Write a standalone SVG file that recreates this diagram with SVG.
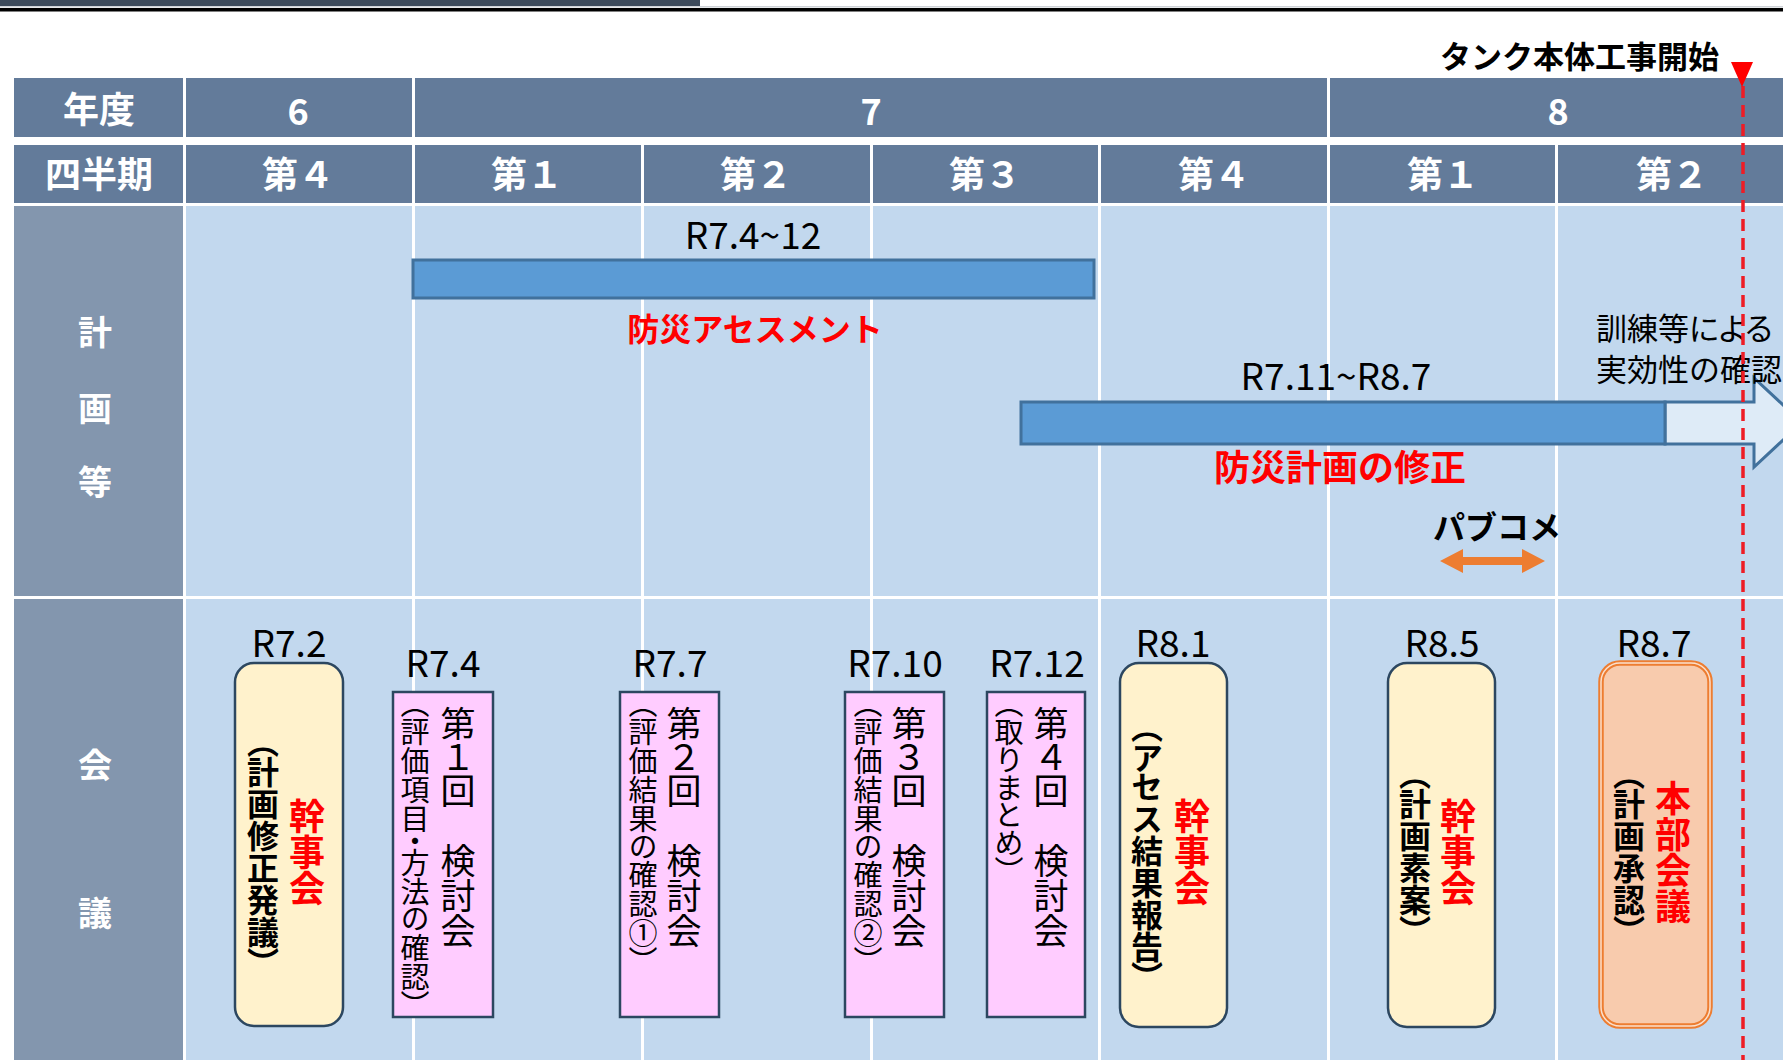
<svg xmlns="http://www.w3.org/2000/svg" width="1783" height="1060" viewBox="0 0 1783 1060">
<defs>
<style>
text{font-family:"Noto Sans CJK JP","Noto Sans",sans-serif;}
.hd{fill:#637b9a}
.side{fill:#8396ae}
.body{fill:#c2d8ee}
.sep{stroke:#fff;stroke-width:3}
.ht{fill:#fff;font-weight:700;font-size:36px;text-anchor:middle}
.st{fill:#fff;font-weight:700;font-size:34px;text-anchor:middle}
.lbl{fill:#000;font-size:37px;text-anchor:middle}
.bar{fill:#5b9bd5;stroke:#41719c;stroke-width:3}
.cream{fill:#fff2cc;stroke:#2c4760;stroke-width:2.5}
.pink{fill:#ffccff;stroke:#2c4760;stroke-width:2.5}
.v{writing-mode:vertical-rl;font-feature-settings:"vpal" 1}
.vb{font-weight:700;font-size:32px;text-anchor:middle;fill:#000}
.vr{font-weight:700;font-size:36px;text-anchor:middle;fill:#ff0000}
.v1{font-size:35px;fill:#000;text-anchor:start}
.v2{font-size:29px;fill:#000;text-anchor:start}
</style>
</defs>
<rect x="0" y="0" width="1783" height="1060" fill="#fff"/>
<g id="topline">
<rect x="0" y="0" width="700" height="6" fill="#3d4b5c"/>
<rect x="0" y="6" width="1783" height="1.5" fill="#cfd3d8"/>
<rect x="0" y="8" width="1783" height="3.5" fill="#000"/>
</g>
<g id="table">
<rect class="hd" x="14" y="78" width="1769" height="59"/>
<rect class="hd" x="14" y="145" width="1769" height="58"/>
<rect class="side" x="14" y="206" width="170" height="390"/>
<rect class="side" x="14" y="599" width="170" height="461"/>
<rect class="body" x="184" y="206" width="1599" height="390"/>
<rect class="body" x="184" y="599" width="1599" height="461"/>
<line class="sep" x1="184.5" y1="78" x2="184.5" y2="1060"/>
<line class="sep" x1="413.5" y1="78" x2="413.5" y2="1060"/>
<line class="sep" x1="1328.5" y1="78" x2="1328.5" y2="1060"/>
<line class="sep" x1="642.5" y1="145" x2="642.5" y2="1060"/>
<line class="sep" x1="871.5" y1="145" x2="871.5" y2="1060"/>
<line class="sep" x1="1099.5" y1="145" x2="1099.5" y2="1060"/>
<line class="sep" x1="1556.5" y1="145" x2="1556.5" y2="1060"/>
<text class="ht" x="99" y="123">年度</text>
<text class="ht" x="298" y="125">6</text>
<text class="ht" x="871" y="125">7</text>
<text class="ht" x="1558" y="125">8</text>
<text class="ht" x="99" y="188">四半期</text>
<text class="ht" x="298" y="188">第４</text>
<text class="ht" x="527" y="188">第１</text>
<text class="ht" x="756" y="188">第２</text>
<text class="ht" x="985" y="188">第３</text>
<text class="ht" x="1214" y="188">第４</text>
<text class="ht" x="1443" y="188">第１</text>
<text class="ht" x="1672" y="188">第２</text>
<text class="st" x="95" y="345">計</text>
<text class="st" x="95" y="421">画</text>
<text class="st" x="95" y="495">等</text>
<text class="st" x="95" y="778">会</text>
<text class="st" x="95" y="926">議</text>
</g>
<g id="assessment">
<rect class="bar" x="413" y="260" width="681" height="38"/>
<text class="lbl" x="753" y="249" font-size="38">R7.4~12</text>
<text x="755" y="341" font-size="32" font-weight="700" fill="#ff0000" text-anchor="middle">防災アセスメント</text>
</g>
<g id="plan-revision">
<polygon points="1665,402 1754,402 1754,378 1802,422.5 1754,467 1754,444 1665,444" fill="#deebf7" stroke="#41719c" stroke-width="3"/>
<rect class="bar" x="1021" y="402" width="644" height="42"/>
<text class="lbl" x="1336" y="390" font-size="38">R7.11~R8.7</text>
<text x="1340" y="481" font-size="36" font-weight="700" fill="#ff0000" text-anchor="middle">防災計画の修正</text>
<text x="1596" y="340" font-size="31" fill="#000" style="font-feature-settings:'palt' 1">訓練等による</text>
<text x="1596" y="381" font-size="31" fill="#000">実効性の確認</text>
</g>
<g id="pubcome">
<text x="1497" y="539" font-size="32" font-weight="700" fill="#000" text-anchor="middle">パブコメ</text>
</g>
<g id="m-r7-2">
<text class="lbl" x="289" y="657">R7.2</text>
<rect class="cream" x="235" y="663" width="108" height="363" rx="19"/>
<text class="v vr" x="307" y="852">幹事会</text>
<text class="v vb" x="263" y="852">（計画修正発議）</text>
</g>
<g id="m-r7-4">
<text class="lbl" x="443" y="677">R7.4</text>
<rect class="pink" x="393" y="692" width="100" height="325"/>
<text class="v v1" x="458" y="706">第１回　検討会</text>
<text class="v v2" x="415" y="703">（評価項目・方法の確認）</text>
</g>
<g id="m-r7-7">
<text class="lbl" x="670" y="677">R7.7</text>
<rect class="pink" x="620" y="692" width="99" height="325"/>
<text class="v v1" x="684" y="706">第２回　検討会</text>
<text class="v v2" x="643" y="703">（評価結果の確認①）</text>
</g>
<g id="m-r7-10">
<text class="lbl" x="895" y="677">R7.10</text>
<rect class="pink" x="845" y="692" width="99" height="325"/>
<text class="v v1" x="909" y="706">第３回　検討会</text>
<text class="v v2" x="868" y="703">（評価結果の確認②）</text>
</g>
<g id="m-r7-12">
<text class="lbl" x="1037" y="677">R7.12</text>
<rect class="pink" x="987" y="692" width="98" height="325"/>
<text class="v v1" x="1051" y="706">第４回　検討会</text>
<text class="v v2" x="1009" y="703">（取りまとめ）</text>
</g>
<g id="m-r8-1">
<text class="lbl" x="1173" y="657">R8.1</text>
<rect class="cream" x="1120" y="663" width="107" height="364" rx="19"/>
<text class="v vr" x="1192" y="852">幹事会</text>
<text class="v vb" x="1147" y="852">（アセス結果報告）</text>
</g>
<g id="m-r8-5">
<text class="lbl" x="1442" y="657">R8.5</text>
<rect class="cream" x="1388" y="663" width="107" height="364" rx="19"/>
<text class="v vr" x="1458" y="852">幹事会</text>
<text class="v vb" x="1415" y="852">（計画素案）</text>
</g>
<g id="m-r8-7">
<text class="lbl" x="1654" y="657">R8.7</text>
<rect x="1601" y="663" width="109" height="363" rx="19" fill="#f8cbad" stroke="#ed7d31" stroke-width="5.5"/>
<rect x="1601" y="663" width="109" height="363" rx="19" fill="none" stroke="#fbe0cc" stroke-width="1.5"/>
<text class="v vr" x="1673" y="852">本部会議</text>
<text class="v vb" x="1629" y="852">（計画承認）</text>
</g>
<g id="connectors">
<polygon points="1440,561 1463,549 1463,557 1522,557 1522,549 1545,561 1522,573 1522,565 1463,565 1463,573" fill="#ed7d31"/>
<line x1="1743" y1="86" x2="1743" y2="1060" stroke="#ee1c25" stroke-width="3.5" stroke-dasharray="12 7"/>
<polygon points="1731,62 1753,62 1742,87" fill="#ff0000"/>
<text x="1719" y="68" font-size="31" font-weight="700" fill="#000" text-anchor="end">タンク本体工事開始</text>
</g>
</svg>
